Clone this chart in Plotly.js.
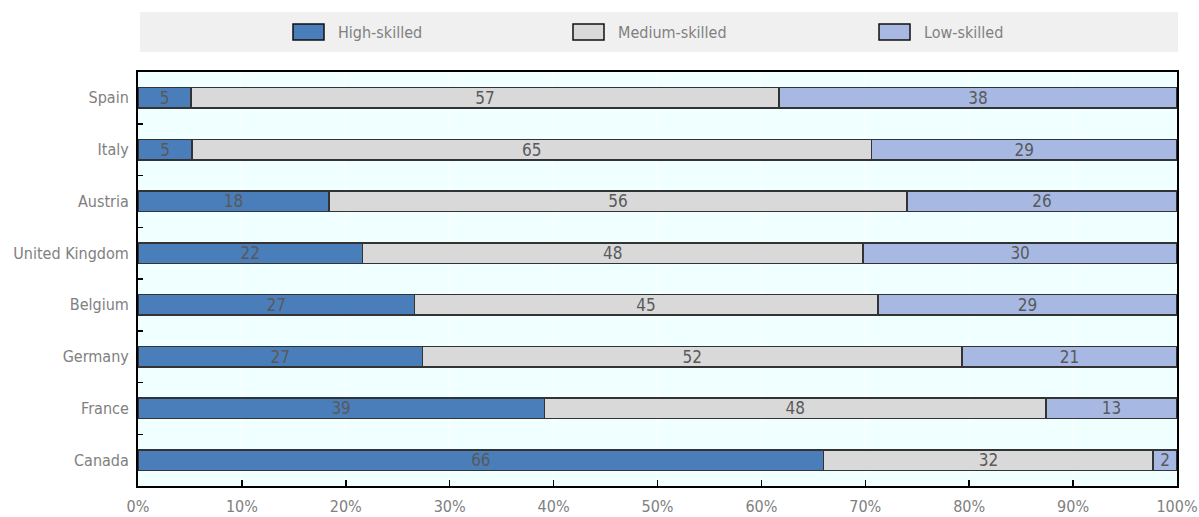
<!DOCTYPE html>
<html>
<head>
<meta charset="utf-8">
<script src="https://cdn.plot.ly/plotly-3.0.1.min.js"></script>
<style>html,body{margin:0;padding:0;background:#fff;}#chart{width:1199px;height:517px;}</style>
</head>
<body>
<div id="chart"></div>
<script>
const countries = ['Spain','Italy','Austria','United Kingdom','Belgium','Germany','France','Canada'];
const seriesNames = ['High-skilled','Medium-skilled','Low-skilled'];
const high   = [5.1, 5.2, 18.4, 21.6, 26.6, 27.4, 39.1, 66.0];
const medium = [56.6, 65.4, 55.6, 48.2, 44.6, 51.9, 48.3, 31.7];
const low    = [38.3, 29.4, 26.0, 30.2, 28.8, 20.7, 12.6, 2.3];
const xTickVals = [0,10,20,30,40,50,60,70,80,90,100];
const xTickText = ['0%','10%','20%','30%','40%','50%','60%','70%','80%','90%','100%'];

const colors = ['#4a7ebb', '#d9d9d9', '#a7b9e3'];
const FONT = '"Liberation Sans Narrow", "Arial Narrow", "DejaVu Sans Condensed", sans-serif';
const W = 1199, H = 517;
const M = {l: 138, r: 22, t: 72, b: 31};
const pw = W - M.l - M.r, ph = H - M.t - M.b;
const px = x => (x - M.l) / pw;
const py = y => (H - M.b - y) / ph;

const seriesData = [high, medium, low];
const traces = seriesData.map((vals, i) => ({
  type: 'bar',
  orientation: 'h',
  name: seriesNames[i],
  y: countries,
  x: vals,
  marker: {color: colors[i], line: {color: '#333333', width: 1.5}},
  texttemplate: '%{x:.0f}',
  textposition: 'inside',
  insidetextanchor: 'middle',
  textangle: 0,
  constraintext: 'none',
  textfont: {family: FONT, size: 17, color: '#595959'},
  hoverinfo: 'name+x',
  showlegend: false
}));

// manual legend
const legendX = [293, 573, 879];
const shapes = [{
  type: 'rect', xref: 'paper', yref: 'paper', layer: 'below',
  x0: px(140), x1: px(1178), y0: py(52), y1: py(12),
  fillcolor: '#f0f0f0', line: {width: 0}
}];
const annotations = [];
seriesNames.forEach((n, i) => {
  shapes.push({
    type: 'rect', xref: 'paper', yref: 'paper',
    x0: px(legendX[i]), x1: px(legendX[i] + 31), y0: py(40), y1: py(24),
    fillcolor: colors[i], line: {color: '#111111', width: 1.5}
  });
  annotations.push({
    xref: 'paper', yref: 'paper', x: px(legendX[i] + 43), y: py(32),
    xanchor: 'left', yanchor: 'middle', showarrow: false, text: n,
    font: {family: FONT, size: 16, color: '#808080'}
  });
});

const layout = {
  width: W, height: H,
  margin: M,
  paper_bgcolor: '#ffffff',
  plot_bgcolor: '#f0ffff',
  barmode: 'stack',
  bargap: 0.6,
  font: {family: FONT, size: 16, color: '#808080'},
  xaxis: {
    range: [0, 100], tickmode: 'array', tickvals: xTickVals, ticktext: xTickText,
    showgrid: true, gridcolor: '#ffffff', gridwidth: 1,
    ticks: 'inside', ticklen: 6, tickwidth: 1.5, tickcolor: '#000',
    showline: true, linecolor: '#000', linewidth: 2, mirror: true,
    zeroline: false, fixedrange: true,
    ticklabelstandoff: 5,
    tickfont: {family: FONT, size: 16, color: '#808080'}
  },
  yaxis: {
    type: 'category', autorange: 'reversed',
    tickson: 'boundaries', ticks: 'inside', ticklen: 5, tickwidth: 1.5, tickcolor: '#000',
    showgrid: false,
    showline: true, linecolor: '#000', linewidth: 2, mirror: true,
    ticklabelstandoff: 4,
    tickfont: {family: FONT, size: 16, color: '#808080'}
  },
  shapes: shapes,
  annotations: annotations
};

Plotly.newPlot('chart', traces, layout, {displayModeBar: false, staticPlot: true});
</script>
</body>
</html>
